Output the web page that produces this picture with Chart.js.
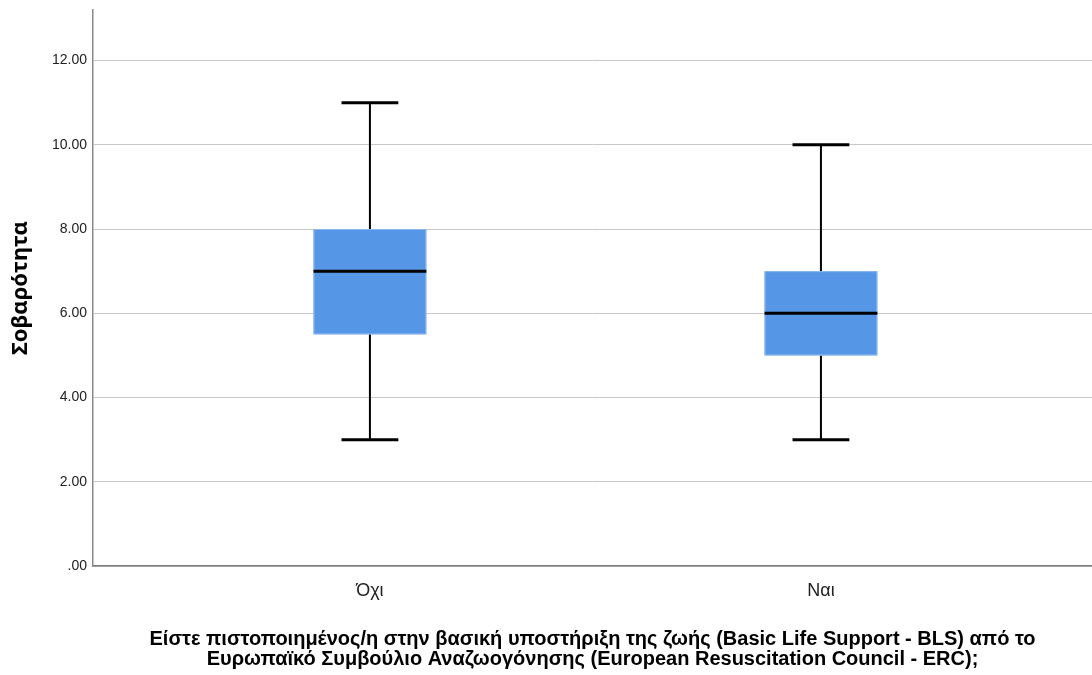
<!DOCTYPE html>
<html><head><meta charset="utf-8">
<script src="https://cdn.jsdelivr.net/npm/chart.js@4.4.1/dist/chart.umd.min.js"></script>
<style>html,body{margin:0;padding:0;background:#fff;}#wrap{width:1092px;height:675px;}</style>
</head><body><div id="wrap"><canvas id="c" width="1092" height="675"></canvas></div>
<script>
const categories = ['Όχι', 'Ναι'];
const positions = [1, 2];
const whiskerLow = [3, 3];
const q1 = [5.5, 5];
const median = [7, 6];
const q3 = [8, 7];
const whiskerHigh = [11, 10];
const yTicks = [0, 2, 4, 6, 8, 10, 12];
const yTitle = 'Σοβαρότητα';
const xTitle = ['Είστε πιστοποιημένος/η στην βασική υποστήριξη της ζωής (Basic Life Support - BLS) από το',
                'Ευρωπαϊκό Συμβούλιο Αναζωογόνησης (European Resuscitation Council - ERC);'];

const sans = '"Liberation Sans", Arial, sans-serif';

const boxPlugin = {
  id: 'boxes',
  afterDatasetsDraw(chart) {
    const ctx = chart.ctx, xs = chart.scales.x, ys = chart.scales.y;
    const boxHalf = 0.125, capHalf = 0.063;
    ctx.save();
    for (let i = 0; i < categories.length; i++) {
      const p = positions[i];
      const xc = xs.getPixelForValue(p);
      const xl = xs.getPixelForValue(p - boxHalf), xr = xs.getPixelForValue(p + boxHalf);
      const cl = xs.getPixelForValue(p - capHalf), cr = xs.getPixelForValue(p + capHalf);
      const yLo = ys.getPixelForValue(whiskerLow[i]), yHi = ys.getPixelForValue(whiskerHigh[i]);
      const yQ1 = ys.getPixelForValue(q1[i]), yQ3 = ys.getPixelForValue(q3[i]);
      const yMed = ys.getPixelForValue(median[i]);
      ctx.strokeStyle = '#000';
      ctx.lineWidth = 2;
      ctx.beginPath();
      ctx.moveTo(xc, yHi); ctx.lineTo(xc, yQ3);
      ctx.moveTo(xc, yQ1); ctx.lineTo(xc, yLo);
      ctx.stroke();
      ctx.lineWidth = 3;
      ctx.beginPath();
      ctx.moveTo(cl, yHi); ctx.lineTo(cr, yHi);
      ctx.moveTo(cl, yLo); ctx.lineTo(cr, yLo);
      ctx.stroke();
      ctx.fillStyle = '#5596e6';
      ctx.fillRect(xl, yQ3, xr - xl, yQ1 - yQ3);
      ctx.strokeStyle = '#8db8ee';
      ctx.lineWidth = 1;
      ctx.strokeRect(xl + 0.5, yQ3 + 0.5, xr - xl - 1, yQ1 - yQ3 - 1);
      ctx.strokeStyle = '#000';
      ctx.lineWidth = 3;
      ctx.beginPath();
      ctx.moveTo(xl, yMed); ctx.lineTo(xr, yMed);
      ctx.stroke();
    }
    ctx.restore();
  }
};

new Chart(document.getElementById('c'), {
  type: 'scatter',
  data: { datasets: [{ data: positions.map((p, i) => ({ x: p, y: median[i] })), pointRadius: 0, showLine: false }] },
  options: {
    responsive: false,
    animation: false,
    layout: { padding: { left: 0, right: 0, top: 0, bottom: 0 } },
    plugins: { legend: { display: false }, tooltip: { enabled: false } },
    scales: {
      x: {
        type: 'linear',
        min: 0.386, max: 2.601,
        afterBuildTicks(s) { s.ticks = positions.map(v => ({ value: v })); },
        afterFit(s) { s.height = 109; },
        ticks: {
          callback: (v) => categories[positions.indexOf(v)] ?? '',
          font: { family: sans, size: 18 },
          color: '#222',
          padding: 14,
          maxRotation: 0, autoSkip: false
        },
        grid: { display: false, drawTicks: false },
        border: { display: true, color: '#7a7a7a', width: 1.5 },
        title: {
          display: true,
          text: xTitle,
          font: { family: sans, size: 20, weight: 'bold', lineHeight: 1.0 },
          color: '#000',
          padding: { top: 30, bottom: 6 }
        }
      },
      y: {
        min: 0, max: 13.2,
        afterBuildTicks(s) { s.ticks = yTicks.map(v => ({ value: v })); },
        afterFit(s) { s.width = 93; s.paddingTop = 10; },
        ticks: {
          callback: (v) => v === 0 ? '.00' : v.toFixed(2),
          font: { family: sans, size: 14 },
          color: '#222',
          padding: 6
        },
        grid: { color: '#c8c8c8', lineWidth: 1, drawTicks: false, tickLength: 0 },
        border: { display: true, color: '#8a8a8a', width: 1.5 },
        title: {
          display: true,
          text: yTitle,
          font: { family: '"Noto Sans", "Liberation Sans", sans-serif', size: 22, weight: 'bold' },
          color: '#000',
          padding: { top: 8, bottom: 0 }
        }
      }
    }
  },
  plugins: [boxPlugin]
});
</script></body></html>
